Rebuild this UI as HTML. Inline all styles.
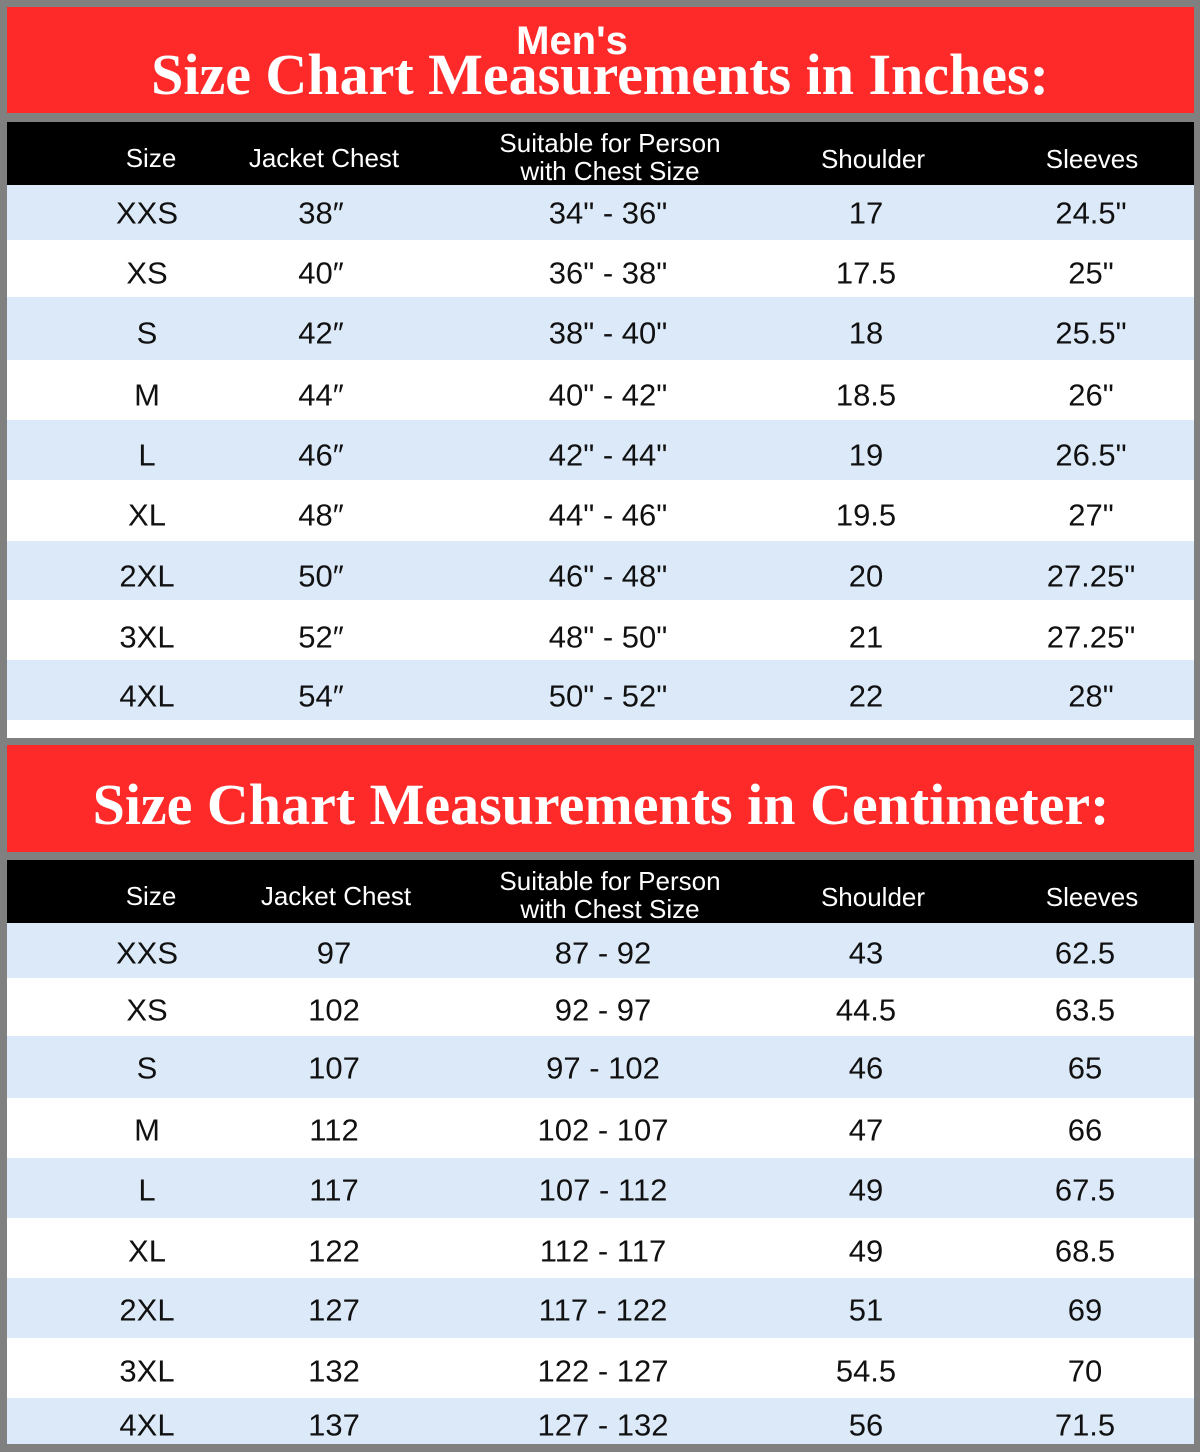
<!DOCTYPE html>
<html><head><meta charset="utf-8"><style>
body{margin:0;width:1200px;height:1452px;background:#808080;position:relative;overflow:hidden}
.a{position:absolute}
.red{background:#fe2a2a;left:7px;width:1187px}
.blk{background:#000;left:7px;width:1187px}
.row{left:7px;width:1187px}
.t{position:absolute;font-family:"Liberation Sans",sans-serif;font-size:31px;color:#111;transform:translate(-50%,-50%);white-space:nowrap;line-height:1}
.h{position:absolute;font-family:"Liberation Sans",sans-serif;font-size:26px;color:#fff;transform:translate(-50%,-50%);white-space:nowrap;line-height:1;text-align:center}
.title{position:absolute;font-family:"Liberation Serif",serif;font-weight:bold;font-size:58px;color:#fff;white-space:nowrap;transform:translate(-50%,-50%);line-height:1}
</style></head><body>
<div class="a red" style="top:7px;height:106px"></div>
<div class="h" style="left:572px;top:41px;font-size:40px;font-weight:bold">Men's</div>
<div class="title" style="left:600px;top:75px">Size Chart Measurements in Inches:</div>
<div class="a blk" style="top:122px;height:63px"></div>
<div class="a row" style="top:185px;height:535px;background:#fff"></div>
<div class="a row" style="top:720px;height:18px;background:#fff"></div>
<div class="a red" style="top:745px;height:107px"></div>
<div class="title" style="left:601px;top:805px">Size Chart Measurements in Centimeter:</div>
<div class="a blk" style="top:860px;height:63px"></div>
<div class="a row" style="top:923px;height:521px;background:#fff"></div>
<div id="c"></div>
<script>
var c=document.getElementById('c'),h='';
function hdr(y,jx){
 h+='<div class="h" style="left:151px;top:'+(y+36)+'px">Size</div>';
 h+='<div class="h" style="left:'+jx+'px;top:'+(y+36)+'px">Jacket Chest</div>';
 h+='<div class="h" style="left:610px;top:'+(y+35)+'px;line-height:28px">Suitable for Person<br>with Chest Size</div>';
 h+='<div class="h" style="left:873px;top:'+(y+37)+'px">Shoulder</div>';
 h+='<div class="h" style="left:1092px;top:'+(y+37)+'px">Sleeves</div>';
}
hdr(122,324);hdr(860,336);
var sz=['XXS','XS','S','M','L','XL','2XL','3XL','4XL'];
var A=[['38″','34" - 36"','17','24.5"'],['40″','36" - 38"','17.5','25"'],['42″','38" - 40"','18','25.5"'],['44″','40" - 42"','18.5','26"'],['46″','42" - 44"','19','26.5"'],['48″','44" - 46"','19.5','27"'],['50″','46" - 48"','20','27.25"'],['52″','48" - 50"','21','27.25"'],['54″','50" - 52"','22','28"']];
var B=[['97','87 - 92','43','62.5'],['102','92 - 97','44.5','63.5'],['107','97 - 102','46','65'],['112','102 - 107','47','66'],['117','107 - 112','49','67.5'],['122','112 - 117','49','68.5'],['127','117 - 122','51','69'],['132','122 - 127','54.5','70'],['137','127 - 132','56','71.5']];
var rb1=[185,240,297,360,420,480,541,600,660,720],ty1=[213,273,333,395,455,515,576,637,696];
var rb2=[923,978,1036,1098,1158,1218,1278,1338,1398,1444],ty2=[953,1010,1068,1130,1190,1251,1310,1371,1425];
function tab(rb,ty,D,xs){
 for(var i=0;i<9;i++){
  if(i%2==0)h+='<div class="a row" style="top:'+rb[i]+'px;height:'+(rb[i+1]-rb[i])+'px;background:#dbe9f8"></div>';
  var y=ty[i];
  h+='<div class="t" style="left:147px;top:'+y+'px">'+sz[i]+'</div>';
  for(var j=0;j<4;j++)h+='<div class="t" style="left:'+xs[j]+'px;top:'+y+'px">'+D[i][j]+'</div>';
 }
}
tab(rb1,ty1,A,[321,608,866,1091]);
tab(rb2,ty2,B,[334,603,866,1085]);
c.innerHTML=h;
</script>
</body></html>
